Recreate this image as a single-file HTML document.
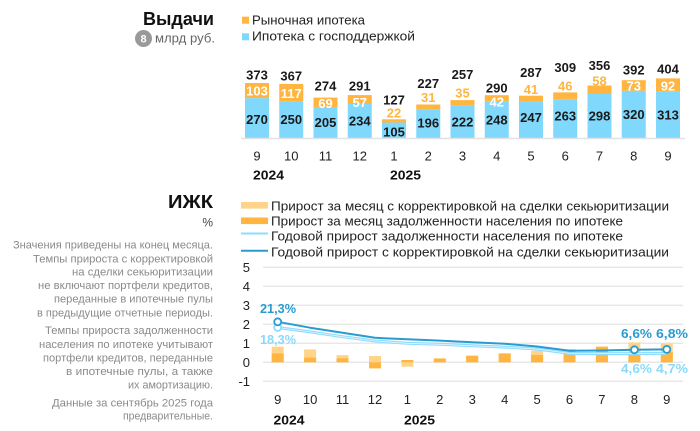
<!DOCTYPE html>
<html><head><meta charset="utf-8"><style>
html,body{margin:0;padding:0;background:#fff;}
svg{display:block;font-family:"Liberation Sans","Noto Sans CJK SC",sans-serif;}
</style></head><body>
<svg width="700" height="431" viewBox="0 0 700 431" xmlns="http://www.w3.org/2000/svg">
<!-- Header top -->
<text x="143" y="25" font-size="18" font-weight="bold" fill="#111" textLength="71" lengthAdjust="spacingAndGlyphs">Выдачи</text>
<circle cx="143.5" cy="38.5" r="8.5" fill="#9a9a9a"/>
<text x="143.5" y="42.5" font-size="11" font-weight="bold" fill="#fff" text-anchor="middle">8</text>
<text x="155" y="42.6" font-size="12.5" fill="#666" textLength="60" lengthAdjust="spacingAndGlyphs">млрд руб.</text>
<rect x="242" y="16.7" width="7" height="7" fill="#FFB53F"/>
<text x="252" y="24.5" font-size="13" fill="#222" textLength="113" lengthAdjust="spacingAndGlyphs">Рыночная ипотека</text>
<rect x="242" y="33.3" width="7" height="7" fill="#80D8FC"/>
<text x="252" y="40.5" font-size="13" fill="#222" textLength="163" lengthAdjust="spacingAndGlyphs">Ипотека с господдержкой</text>

<!-- Top bars -->
<g>
<rect x="245" y="83.0" width="24" height="15.2" fill="#FFB53F"/><rect x="245" y="98.2" width="24" height="39.8" fill="#80D8FC"/>
<rect x="279.25" y="83.9" width="24" height="17.2" fill="#FFB53F"/><rect x="279.25" y="101.1" width="24" height="36.9" fill="#80D8FC"/>
<rect x="313.5" y="97.6" width="24" height="10.2" fill="#FFB53F"/><rect x="313.5" y="107.8" width="24" height="30.2" fill="#80D8FC"/>
<rect x="347.75" y="95.1" width="24" height="8.4" fill="#FFB53F"/><rect x="347.75" y="103.5" width="24" height="34.5" fill="#80D8FC"/>
<rect x="382" y="119.3" width="24" height="3.2" fill="#FFB53F"/><rect x="382" y="122.5" width="24" height="15.5" fill="#80D8FC"/>
<rect x="416.25" y="104.5" width="24" height="4.6" fill="#FFB53F"/><rect x="416.25" y="109.1" width="24" height="28.9" fill="#80D8FC"/>
<rect x="450.5" y="100.1" width="24" height="5.2" fill="#FFB53F"/><rect x="450.5" y="105.3" width="24" height="32.7" fill="#80D8FC"/>
<rect x="484.75" y="95.2" width="24" height="6.2" fill="#FFB53F"/><rect x="484.75" y="101.4" width="24" height="36.6" fill="#80D8FC"/>
<rect x="519" y="95.7" width="24" height="5.9" fill="#FFB53F"/><rect x="519" y="101.6" width="24" height="36.4" fill="#80D8FC"/>
<rect x="553.25" y="92.4" width="24" height="6.8" fill="#FFB53F"/><rect x="553.25" y="99.2" width="24" height="38.8" fill="#80D8FC"/>
<rect x="587.5" y="85.5" width="24" height="8.5" fill="#FFB53F"/><rect x="587.5" y="94.0" width="24" height="44.0" fill="#80D8FC"/>
<rect x="621.75" y="80.2" width="24" height="10.6" fill="#FFB53F"/><rect x="621.75" y="90.8" width="24" height="47.2" fill="#80D8FC"/>
<rect x="656" y="78.4" width="24" height="13.4" fill="#FFB53F"/><rect x="656" y="91.8" width="24" height="46.2" fill="#80D8FC"/>
</g>
<line x1="241" y1="138.5" x2="685" y2="138.5" stroke="#e2e2e2" stroke-width="1.5"/>

<!-- Top labels -->
<g font-size="13" font-weight="bold" text-anchor="middle" fill="#1a1a1a">
<text x="257" y="79.7">373</text>
<text x="291.25" y="80.7">367</text>
<text x="325.5" y="90.7">274</text>
<text x="359.75" y="90.7">291</text>
<text x="394" y="104.7">127</text>
<text x="428.25" y="88">227</text>
<text x="462.5" y="79">257</text>
<text x="496.75" y="92.4">290</text>
<text x="531" y="77">287</text>
<text x="565.25" y="72">309</text>
<text x="599.5" y="70">356</text>
<text x="633.75" y="74.7">392</text>
<text x="668" y="73.4">404</text>

<text x="257" y="124">270</text>
<text x="291.25" y="124">250</text>
<text x="325.5" y="127">205</text>
<text x="359.75" y="125.7">234</text>
<text x="394" y="136.4">105</text>
<text x="428.25" y="127.4">196</text>
<text x="462.5" y="126.4">222</text>
<text x="496.75" y="124.7">248</text>
<text x="531" y="122">247</text>
<text x="565.25" y="120.7">263</text>
<text x="599.5" y="120.7">298</text>
<text x="633.75" y="119">320</text>
<text x="668" y="119.7">313</text>
</g>
<g font-size="13" font-weight="bold" text-anchor="middle" fill="#fff">
<text x="257" y="95.4">103</text>
<text x="291.25" y="98">117</text>
<text x="325.5" y="108.2">69</text>
<text x="359.75" y="107.2">57</text>
<text x="496.75" y="106.4">42</text>
<text x="633.75" y="90.7">73</text>
<text x="668" y="90.7">92</text>
</g>
<g font-size="13" font-weight="bold" text-anchor="middle" fill="#FFB53F">
<text x="394" y="117.4">22</text>
<text x="428.25" y="102">31</text>
<text x="462.5" y="97.4">35</text>
<text x="531" y="94">41</text>
<text x="565.25" y="90.4">46</text>
<text x="599.5" y="85.4">58</text>
</g>
<g font-size="13" text-anchor="middle" fill="#222">
<text x="257" y="160.5">9</text>
<text x="291.25" y="160.5">10</text>
<text x="325.5" y="160.5">11</text>
<text x="359.75" y="160.5">12</text>
<text x="394" y="160.5">1</text>
<text x="428.25" y="160.5">2</text>
<text x="462.5" y="160.5">3</text>
<text x="496.75" y="160.5">4</text>
<text x="531" y="160.5">5</text>
<text x="565.25" y="160.5">6</text>
<text x="599.5" y="160.5">7</text>
<text x="633.75" y="160.5">8</text>
<text x="668" y="160.5">9</text>
</g>
<text x="253" y="179.7" font-size="13" font-weight="bold" fill="#111" textLength="31" lengthAdjust="spacingAndGlyphs">2024</text>
<text x="390" y="179.7" font-size="13" font-weight="bold" fill="#111" textLength="31" lengthAdjust="spacingAndGlyphs">2025</text>

<!-- Bottom header -->
<text x="213" y="208" font-size="18" font-weight="bold" fill="#111" text-anchor="end" textLength="45" lengthAdjust="spacingAndGlyphs">ИЖК</text>
<text x="213" y="226.5" font-size="12" fill="#444" text-anchor="end">%</text>

<g font-size="11" fill="#8a8a8a" text-anchor="end">
<text x="213" y="248.3" textLength="200" lengthAdjust="spacingAndGlyphs">Значения приведены на конец месяца.</text>
<text x="213" y="262.3" textLength="180" lengthAdjust="spacingAndGlyphs">Темпы прироста с корректировкой</text>
<text x="213" y="275.7" textLength="141" lengthAdjust="spacingAndGlyphs">на сделки секьюритизации</text>
<text x="213" y="289" textLength="175" lengthAdjust="spacingAndGlyphs">не включают портфели кредитов,</text>
<text x="213" y="302.7" textLength="159" lengthAdjust="spacingAndGlyphs">переданные в ипотечные пулы</text>
<text x="213" y="316.3" textLength="176" lengthAdjust="spacingAndGlyphs">в предыдущие отчетные периоды.</text>
<text x="213" y="334" textLength="168" lengthAdjust="spacingAndGlyphs">Темпы прироста задолженности</text>
<text x="213" y="348" textLength="174" lengthAdjust="spacingAndGlyphs">населения по ипотеке учитывают</text>
<text x="213" y="361.7" textLength="170" lengthAdjust="spacingAndGlyphs">портфели кредитов, переданные</text>
<text x="213" y="375" textLength="147" lengthAdjust="spacingAndGlyphs">в ипотечные пулы, а также</text>
<text x="213" y="388.3" textLength="85" lengthAdjust="spacingAndGlyphs">их амортизацию.</text>
<text x="213" y="406.3" textLength="161" lengthAdjust="spacingAndGlyphs">Данные за сентябрь 2025 года</text>
<text x="213" y="419.7" textLength="90" lengthAdjust="spacingAndGlyphs">предварительные.</text>
</g>

<!-- Bottom legend -->
<rect x="241" y="202" width="27" height="6.6" fill="#FFD488"/>
<rect x="241" y="217.5" width="27" height="6.6" fill="#FFB53F"/>
<line x1="241" y1="233.5" x2="268" y2="233.5" stroke="#8ddcff" stroke-width="2"/>
<line x1="241" y1="250.7" x2="268" y2="250.7" stroke="#2a9bd0" stroke-width="2"/>
<g font-size="13" fill="#222">
<text x="271" y="210.3" textLength="398" lengthAdjust="spacingAndGlyphs">Прирост за месяц с корректировкой на сделки секьюритизации</text>
<text x="271" y="225.6" textLength="352" lengthAdjust="spacingAndGlyphs">Прирост за месяц задолженности населения по ипотеке</text>
<text x="271" y="240.6" textLength="352" lengthAdjust="spacingAndGlyphs">Годовой прирост задолженности населения по ипотеке</text>
<text x="271" y="256.3" textLength="398" lengthAdjust="spacingAndGlyphs">Годовой прирост с корректировкой на сделки секьюритизации</text>
</g>

<!-- Grid -->
<g stroke="#e8e8e8" stroke-width="1.5">
<line x1="263" y1="267.3" x2="683" y2="267.3"/>
<line x1="263" y1="286.3" x2="683" y2="286.3"/>
<line x1="263" y1="305.3" x2="683" y2="305.3"/>
<line x1="263" y1="324.3" x2="683" y2="324.3"/>
<line x1="263" y1="343.3" x2="683" y2="343.3"/>
<line x1="263" y1="362.3" x2="683" y2="362.3"/>
<line x1="263" y1="381.3" x2="683" y2="381.3"/>
</g>
<g font-size="13" fill="#222" text-anchor="end">
<text x="250" y="272">5</text>
<text x="250" y="291">4</text>
<text x="250" y="310">3</text>
<text x="250" y="329">2</text>
<text x="250" y="348">1</text>
<text x="250" y="367">0</text>
<text x="250" y="386">-1</text>
</g>

<!-- Bottom bars: light (corrected) -->
<g fill="#FFD488">
<rect x="271.7" y="346.7" width="12" height="15.6"/>
<rect x="304.1" y="349.4" width="12" height="12.9"/>
<rect x="336.5" y="355.1" width="12" height="7.2"/>
<rect x="369" y="356" width="12" height="6.3"/>
<rect x="401.4" y="362.3" width="12" height="4.4"/>
<rect x="433.8" y="358.1" width="12" height="4.2"/>
<rect x="466.2" y="355.7" width="12" height="6.6"/>
<rect x="498.7" y="353.4" width="12" height="8.9"/>
<rect x="531.1" y="350.7" width="12" height="11.6"/>
<rect x="563.5" y="349.4" width="12" height="12.9"/>
<rect x="595.9" y="346.7" width="12" height="15.6"/>
<rect x="628.4" y="342.4" width="12" height="19.9"/>
<rect x="660.8" y="343.3" width="12" height="19"/>
</g>
<g fill="#FFB53F">
<rect x="271.7" y="353.4" width="12" height="8.9"/>
<rect x="304.1" y="357.7" width="12" height="4.6"/>
<rect x="336.5" y="358.3" width="12" height="4"/>
<rect x="369" y="362.3" width="12" height="6.1"/>
<rect x="401.4" y="360" width="12" height="2.3"/>
<rect x="433.8" y="358.9" width="12" height="3.4"/>
<rect x="466.2" y="355.7" width="12" height="6.6"/>
<rect x="498.7" y="353.4" width="12" height="8.9"/>
<rect x="531.1" y="355" width="12" height="7.3"/>
<rect x="563.5" y="349.4" width="12" height="12.9"/>
<rect x="595.9" y="346.7" width="12" height="15.6"/>
<rect x="628.4" y="351.8" width="12" height="10.5"/>
<rect x="660.8" y="351.8" width="12" height="10.5"/>
</g>

<!-- Lines -->
<polyline fill="none" stroke="#8ddcff" stroke-width="3" stroke-linejoin="round" points="277.7,327.5 310.1,331.9 342.5,336.7 375,341 407.4,343.3 439.8,344.3 472.2,345.8 504.7,347.1 537.1,349 569.5,353.4 601.9,353.6 634.4,353.6 666.8,353.4"/>
<polyline fill="none" stroke="#dff5ff" stroke-width="0.8" stroke-linejoin="round" points="277.7,327.5 310.1,331.9 342.5,336.7 375,341 407.4,343.3 439.8,344.3 472.2,345.8 504.7,347.1 537.1,349 569.5,353.4 601.9,353.6 634.4,353.6 666.8,353.4"/>
<polyline fill="none" stroke="#2a9bd0" stroke-width="2" stroke-linejoin="round" points="277.7,321.8 310.1,327.7 342.5,332.7 375,337.8 407.4,339.3 439.8,340.6 472.2,342.3 504.7,343.7 537.1,346.5 569.5,350.7 601.9,350.5 634.4,349.8 666.8,349.4"/>
<g fill="#fff" stroke-width="1.8">
<circle cx="277.7" cy="327.5" r="3.5" stroke="#8ddcff"/>
<circle cx="277.7" cy="321.8" r="3.5" stroke="#2a9bd0"/>
<circle cx="634.4" cy="349.8" r="3.5" stroke="#2a9bd0"/>
<circle cx="666.8" cy="349.4" r="3.5" stroke="#2a9bd0"/>
</g>

<g font-size="13" font-weight="bold">
<text x="260" y="313" fill="#2a9bd0" textLength="36" lengthAdjust="spacingAndGlyphs">21,3%</text>
<text x="260" y="344" fill="#8ad9fb" textLength="36" lengthAdjust="spacingAndGlyphs">18,3%</text>
<text x="621" y="338" fill="#2a9bd0" textLength="31" lengthAdjust="spacingAndGlyphs">6,6%</text>
<text x="656" y="338" fill="#2a9bd0" textLength="32" lengthAdjust="spacingAndGlyphs">6,8%</text>
<text x="621" y="373" fill="#8ad9fb" textLength="31" lengthAdjust="spacingAndGlyphs">4,6%</text>
<text x="656" y="373" fill="#8ad9fb" textLength="32" lengthAdjust="spacingAndGlyphs">4,7%</text>
</g>

<g font-size="13" text-anchor="middle" fill="#222">
<text x="277.7" y="404">9</text>
<text x="310.1" y="404">10</text>
<text x="342.5" y="404">11</text>
<text x="375" y="404">12</text>
<text x="407.4" y="404">1</text>
<text x="439.8" y="404">2</text>
<text x="472.2" y="404">3</text>
<text x="504.7" y="404">4</text>
<text x="537.1" y="404">5</text>
<text x="569.5" y="404">6</text>
<text x="601.9" y="404">7</text>
<text x="634.4" y="404">8</text>
<text x="666.8" y="404">9</text>
</g>
<text x="273.5" y="424.7" font-size="13" font-weight="bold" fill="#111" textLength="31" lengthAdjust="spacingAndGlyphs">2024</text>
<text x="404" y="424.7" font-size="13" font-weight="bold" fill="#111" textLength="31" lengthAdjust="spacingAndGlyphs">2025</text>
</svg>
</body></html>
